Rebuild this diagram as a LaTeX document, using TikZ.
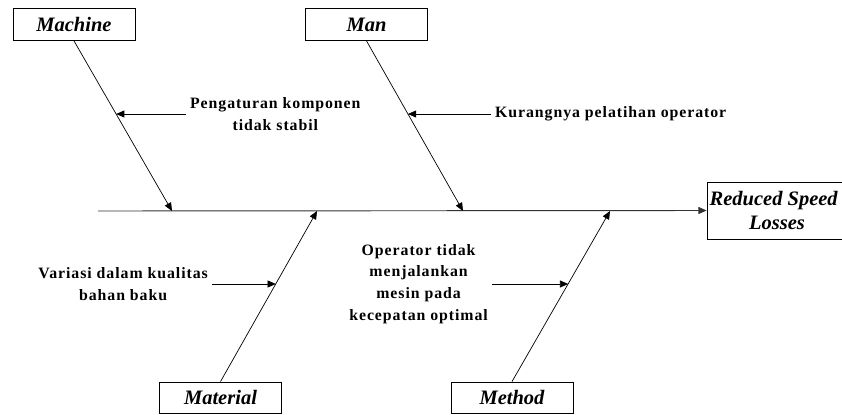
\documentclass[tikz,border=0pt]{standalone}
\usepackage{fontspec}
\setmainfont{Liberation Serif}
\newfontfamily\causefont[LetterSpace=6]{Liberation Serif Bold}
\usetikzlibrary{arrows.meta,calc}

\begin{document}
\begin{tikzpicture}[x=0.03cm, y=-0.03cm,
  catbox/.style={rectangle, draw, line width=0.7pt, minimum width=3.66cm,
    minimum height=0.96cm, font=\fontsize{17.5}{20}\selectfont\bfseries\itshape},
  cause/.style={font=\causefont\fontsize{13.5}{18.5}\selectfont, align=center},
  spine/.style={-{Triangle[length=7pt,width=6pt]}, line width=0.8pt, black!80},
  bone/.style={-{Triangle[length=7pt,width=6pt]}, line width=0.6pt},
  carr/.style={-{Triangle[length=7pt,width=6pt]}, line width=0.6pt}
]
\useasboundingbox (0,0) rectangle (842,414);
% effect
\node[draw, line width=0.7pt, minimum width=4.2cm, minimum height=1.71cm,
  font=\fontsize{17.5}{21}\selectfont\bfseries\itshape, align=center]
  (Effect) at (777,210.5) {\hspace*{-0.2cm}Reduced Speed\\Losses};
% categories
\node[catbox] (Machine) at (74,24.5) {Machine};
\node[catbox] (Man) at (366.5,24.5) {Man};
\node[catbox, minimum height=0.93cm] (Material) at (220.5,397.5) {Material};
\node[catbox, minimum height=0.93cm] (Method) at (512,397.5) {Method};
% spine
\coordinate (s0) at (98,211);
\coordinate (b1) at (172,211);
\coordinate (b2) at (463,211);
\coordinate (b3) at (317,211);
\coordinate (b4) at (610,211);
\draw[spine] (s0) -- (Effect.west);
\draw[bone] (Machine.south) -- (b1);
\draw[bone] (Man.south) -- (b2);
\draw[bone] (Material.north) -- (b3);
\draw[bone] (Method.north) -- (b4);
% points on the bones
\coordinate (t1) at ($(Machine.south)!0.43!(b1)$);
\coordinate (t2) at ($(Man.south)!0.43!(b2)$);
\coordinate (t3) at ($(Material.north)!0.573!(b3)$);
\coordinate (t4) at ($(Method.north)!0.573!(b4)$);
% causes
\node[cause, anchor=west] (c1) at (186,114) {Pengaturan komponen\\tidak stabil};
\node[cause, anchor=west] (c2) at (491,114) {Kurangnya pelatihan operator};
\node[cause, anchor=east] (c3) at (212,284) {Variasi dalam kualitas\\bahan baku};
\node[cause, anchor=east] (c4) at (492,284)
  {Operator tidak\\menjalankan\\mesin pada\\kecepatan optimal};
\draw[carr] (c1.west) -- (c1.west -| t1);
\draw[carr] (c2.west) -- (c2.west -| t2);
\draw[carr] (c3.east) -- (c3.east -| t3);
\draw[carr] (c4.east) -- (c4.east -| t4);
\end{tikzpicture}
\end{document}
